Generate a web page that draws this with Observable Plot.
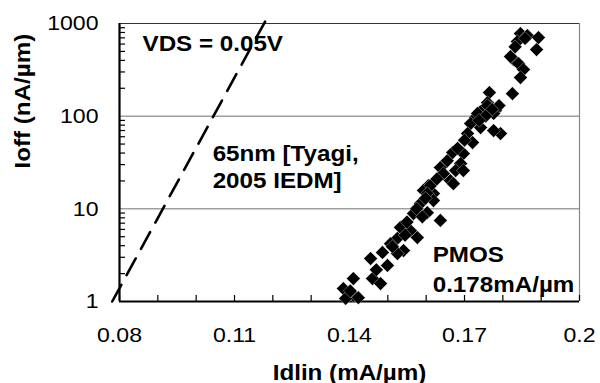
<!DOCTYPE html>
<html><head><meta charset="utf-8">
<script src="https://cdn.jsdelivr.net/npm/d3@7"></script>
<script src="https://cdn.jsdelivr.net/npm/@observablehq/plot@0.6"></script>
<style>
body{margin:0;background:#fff}
</style></head><body><div id="chart"></div>
<script>
// PMOS measured points (Idlin mA/um, Ioff nA/um)
const idlin = [0.1846,0.1864,0.1893,0.1838,0.1888,0.1828,0.1841,0.1854,0.1846,0.1825,
  0.1765,0.1760,0.1781,0.1742,0.1768,0.1729,0.1760,0.1776,0.1734,0.1716,
  0.1742,0.1794,0.1776,0.1708,0.1721,0.1669,0.1697,0.1690,0.1637,0.1677,
  0.1697,0.1663,0.1606,0.1593,0.1619,0.1611,0.1671,0.1603,0.1585,0.1619,
  0.1567,0.1603,0.1637,0.1533,0.1559,0.1577,0.1525,0.1507,0.1541,0.1486,
  0.1455,0.1499,0.1525,0.1410,0.1460,0.1481,0.1384,0.1410,0.1390,0.1423,
  0.1790,0.1772,0.1755,0.1738,0.1700,0.1682,0.1655,0.1645,0.1628,0.1598,
  0.1575,0.1590,0.1550,0.1545,0.1512,0.1470,0.1402,0.1832,0.1858,0.1820];
const ioff = [778,740,705,638,523,408,369,318,261,175,
  180,140,115,112,124,96.6,130,107,107,83.2,
  75.3,64.9,69.9,64.9,51.9,40.5,39.5,30.8,27.9,25.9,
  25.9,20.2,17.8,15.8,14.6,17.8,18.7,14.6,11.4,12.3,
  8.9,9.1,7.5,6.3,5.8,4.9,4.8,4.2,3.55,3.38,
  2.91,2.45,3.29,1.77,1.77,1.56,1.38,1.16,1.08,1.10,
  130,118,100,90,55,45,33,24,21,13,
  10,8.2,7.2,5.2,3.9,2.2,1.3,560,690,440];
// 65nm reference trend (dashed)
const refIdlin = [0.0781, 0.1187];
const refIoff = [1, 1190];
// ticks
const xMinorTicks = [0.08,0.09,0.10,0.11,0.12,0.13,0.14,0.15,0.16,0.17,0.18,0.19,0.2];
const xTickLabels = [0.08,0.11,0.14,0.17,0.2];
const yTickLabels = [1,10,100,1000];
const yMinorTicks = [2,3,4,5,6,7,8,9,20,30,40,50,60,70,80,90,200,300,400,500,600,700,800,900];
const gridValues = [10,100];
// annotations
const annText = ["VDS = 0.05V", "65nm [Tyagi,\n2005 IEDM]", "PMOS\n0.178mA/\u00b5m"];
const annX = [0.086, 0.1043, 0.1617];
const annY = [510, 16.6, 1.28];
const annLineHeight = [1.2, 1.23, 1.36];
const xTitle = "Idlin (mA/\u00b5m)";
const yTitle = "Ioff (nA/\u00b5m)";

const ann = annText.map((t,i)=>({t, x: annX[i], y: annY[i], lh: annLineHeight[i]}));
const refLine = refIdlin.map((x,i)=>({x, y: refIoff[i]}));
const pts = idlin.map((x,i)=>({x, y: ioff[i]}));

const chart = Plot.plot({
  width: 600, height: 383,
  marginLeft: 119, marginRight: 21, marginTop: 23, marginBottom: 82,
  style: {fontFamily: "'Liberation Sans', Arial, sans-serif", fontSize: "21px", background: "white", color: "black"},
  x: {domain: [0.08, 0.2]},
  y: {type: "log", domain: [1, 1000]},
  marks: [
    Plot.ruleY(gridValues, {stroke: "#707070", strokeWidth: 1}),
    Plot.ruleY([1000], {stroke: "#333", strokeWidth: 1.2}),
    Plot.ruleX([0.2], {stroke: "#888", strokeWidth: 1.2}),
    Plot.axisX({ticks: xMinorTicks, tickSize: -6, tickFormat: () => "", label: null, strokeWidth: 1.2}),
    Plot.axisX({ticks: xTickLabels, tickSize: 0, tickPadding: 26, tickFormat: d => String(d), label: null, fontSize: 21}),
    Plot.axisY({ticks: yMinorTicks, tickSize: -6, tickFormat: () => "", label: null, strokeWidth: 1.2}),
    Plot.axisY({ticks: yTickLabels, tickSize: 0, tickPadding: 21, tickFormat: d => String(d), label: null, fontSize: 21}),
    Plot.ruleX([0.08], {stroke: "black", strokeWidth: 2.2}),
    Plot.ruleY([1], {stroke: "black", strokeWidth: 2.2}),
    Plot.line(refLine, {x: "x", y: "y", stroke: "black", strokeWidth: 2.6, strokeDasharray: "19,11"}),
    Plot.dot(pts, {x: "x", y: "y", symbol: "diamond2", r: 6.2, fill: "black", stroke: "white", strokeWidth: 0.35}),
    ...ann.map(a => Plot.text([a], {x: "x", y: "y", text: "t", textAnchor: "start", lineAnchor: "bottom", lineHeight: a.lh, fontWeight: "bold", fontSize: 22, fill: "black"})),
    Plot.text([xTitle], {frameAnchor: "bottom", dy: 78, lineAnchor: "bottom", fontWeight: "bold", fontSize: 22}),
    Plot.text([yTitle], {frameAnchor: "left", rotate: -90, dx: -97, dy: 6, lineAnchor: "middle", fontWeight: "bold", fontSize: 22})
  ]
});
document.getElementById("chart").append(chart);
// Widen glyphs along the text direction (about the anchor point) to match the reference's wide lettering
chart.querySelectorAll("text").forEach(t => {
  if (!t.textContent) return;
  const cs = getComputedStyle(t);
  const f = 1.1;
  const bb = t.getBBox();
  const anchor = cs.textAnchor;
  const ax = anchor === "middle" ? bb.x + bb.width / 2 : anchor === "end" ? bb.x + bb.width : bb.x;
  const prev = t.getAttribute("transform") || "";
  t.setAttribute("transform", `${prev} translate(${ax},0) scale(${f},1) translate(${-ax},0)`.trim());
});
</script></body></html>
